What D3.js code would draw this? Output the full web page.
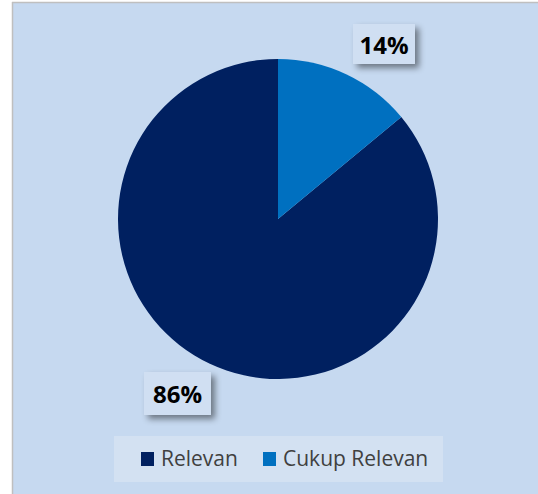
<!DOCTYPE html>
<html>
<head>
<meta charset="utf-8">
<script src="https://cdn.jsdelivr.net/npm/d3@7"></script>
<style>
  html, body { margin: 0; padding: 0; background: #ffffff; }
  svg { display: block; }
</style>
</head>
<body>
<svg id="chart" width="538" height="494"></svg>
<script>
// Survey result: relevance of the material
const categories = ["Relevan", "Cukup Relevan"];
const values = [86, 14];
const colors = ["#002060", "#0070c0"];
const valueLabels = ["86%", "14%"];

const svg = d3.select("#chart");
const W = 538, H = 494;

// drop shadow used by the data label boxes
const defs = svg.append("defs");
const f = defs.append("filter").attr("id", "shadow")
  .attr("x", "-30%").attr("y", "-30%").attr("width", "170%").attr("height", "170%");
f.append("feDropShadow").attr("dx", 4).attr("dy", 4).attr("stdDeviation", 3)
  .attr("flood-color", "#000").attr("flood-opacity", 0.45);

// chart area
svg.append("rect").attr("x", 12).attr("y", 2).attr("width", W - 12).attr("height", H - 2)
  .attr("fill", "#c6d9f0");
svg.append("line").attr("x1", 12.5).attr("x2", 12.5).attr("y1", 2).attr("y2", H)
  .attr("stroke", "#bfbfbf").attr("stroke-width", 1.5);
svg.append("line").attr("x1", 12).attr("x2", W).attr("y1", 2.5).attr("y2", 2.5)
  .attr("stroke", "#bfbfbf").attr("stroke-width", 1.5);

// pie: "Cukup Relevan" starts at 12 o'clock, slices run clockwise
const cx = 278, cy = 219, r = 160;
const total = d3.sum(values);
const data = categories.map((c, i) => ({ name: c, value: values[i], color: colors[i], label: valueLabels[i] }));
const offset = 2 * Math.PI * values[1] / total;
const pie = d3.pie().sort(null).value(d => d.value)
  .startAngle(offset).endAngle(2 * Math.PI + offset);
const arcs = pie(data);
const arc = d3.arc().innerRadius(0).outerRadius(r);

const g = svg.append("g").attr("transform", `translate(${cx},${cy})`);
g.selectAll("path").data(arcs).enter().append("path")
  .attr("d", arc).attr("fill", d => d.data.color);

// data label boxes placed just outside the pie (center, width, height)
const labelBox = {
  "Relevan": { x: -100.5, y: 174.5, w: 67, h: 43 },
  "Cukup Relevan": { x: 106, y: -175, w: 62, h: 40 }
};
arcs.forEach(a => {
  const b = labelBox[a.data.name];
  const lg = g.append("g").attr("transform", `translate(${b.x},${b.y})`);
  lg.append("rect").attr("x", -b.w / 2).attr("y", -b.h / 2).attr("width", b.w).attr("height", b.h)
    .attr("fill", "#d0dff2").attr("filter", "url(#shadow)");
  lg.append("text").text(a.data.label)
    .attr("text-anchor", "middle").attr("y", 1).attr("dy", "0.36em")
    .attr("font-family", "Open Sans, sans-serif").attr("font-weight", "bold")
    .attr("font-size", 24).attr("fill", "#000");
});

// legend
const lgX = 114, lgY = 436, lgW = 329, lgH = 46;
svg.append("rect").attr("x", lgX).attr("y", lgY).attr("width", lgW).attr("height", lgH)
  .attr("fill", "#d3e1f2");
const legendX = [141, 263];
data.forEach((d, i) => {
  svg.append("rect").attr("x", legendX[i]).attr("y", 452).attr("width", 13).attr("height", 14)
    .attr("fill", d.color);
  svg.append("text").text(d.name)
    .attr("x", legendX[i] + 20).attr("y", 466)
    .attr("font-family", "Open Sans, sans-serif").attr("font-size", 21)
    .attr("fill", "#404040");
});
</script>
</body>
</html>
